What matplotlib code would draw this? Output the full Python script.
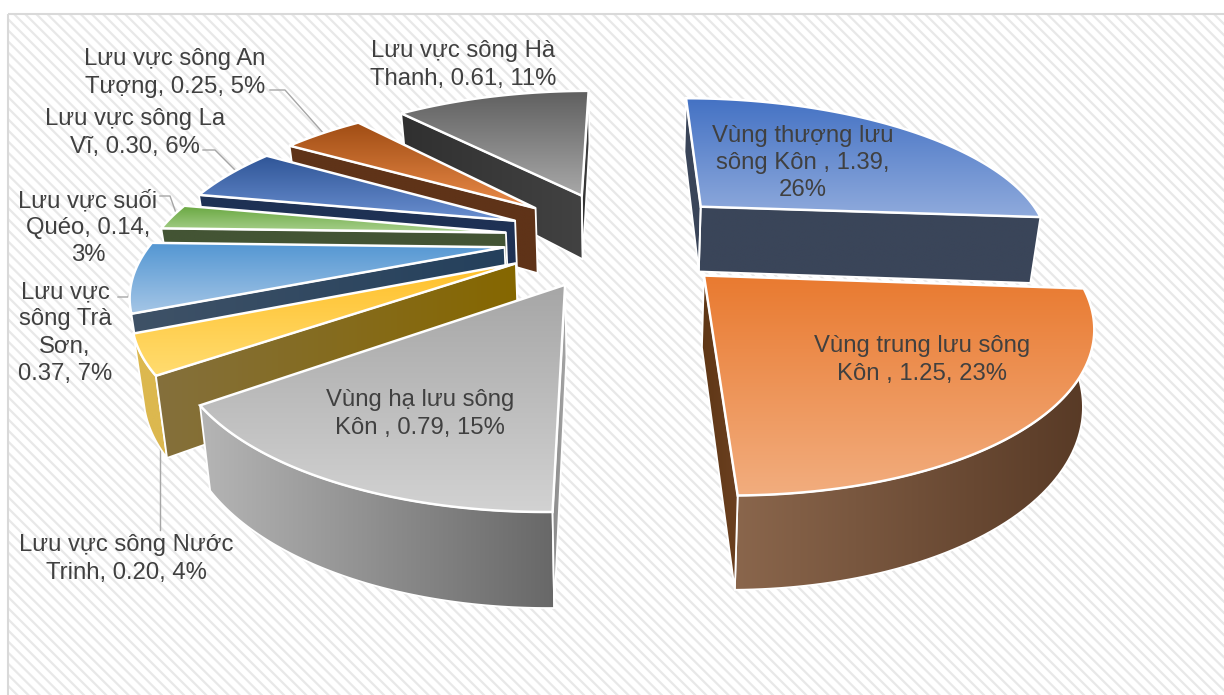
#!/usr/bin/env python3
"""Exploded 3D-style pie of river basin areas, drawn with plain matplotlib patches."""

import numpy as np
import matplotlib
matplotlib.use("Agg")
import matplotlib.pyplot as plt
from matplotlib.colors import LinearSegmentedColormap
from matplotlib.patches import Polygon, Rectangle

plt.rcParams['font.family'] = ['Liberation Sans', 'DejaVu Sans']
plt.rcParams['hatch.linewidth'] = 1.6

# data
names = ["Vùng thượng lưu sông Kôn", "Vùng trung lưu sông Kôn", "Vùng hạ lưu sông Kôn",
         "Lưu vực sông Nước Trinh", "Lưu vực sông Trà Sơn", "Lưu vực suối Quéo",
         "Lưu vực sông La Vĩ", "Lưu vực sông An Tượng", "Lưu vực sông Hà Thanh"]
values = [1.39, 1.25, 0.79, 0.20, 0.37, 0.14, 0.30, 0.25, 0.61]
labels = ["Vùng thượng lưu\nsông Kôn , 1.39,\n26%", "Vùng trung lưu sông\nKôn , 1.25, 23%",
          "Vùng hạ lưu sông\nKôn , 0.79, 15%", "Lưu vực sông Nước\nTrinh, 0.20, 4%",
          "Lưu vực\nsông Trà\nSơn,\n0.37, 7%", "Lưu vực suối\nQuéo, 0.14,\n3%",
          "Lưu vực sông La\nVĩ, 0.30, 6%", "Lưu vực sông An\nTượng, 0.25, 5%",
          "Lưu vực sông Hà\nThanh, 0.61, 11%"]

# styles: top gradient (upper, lower), side face (left, right), outer wall (left, right)
top_colors = [("#4472c4", "#8faadc"), ("#e97a30", "#f2ad7e"), ("#a6a6a6", "#d2d2d2"),
              ("#ffc02a", "#ffdc70"), ("#5497d3", "#a5c6e6"), ("#6aa842", "#a9d18e"),
              ("#2f5597", "#6a8fd0"), ("#a04d14", "#ea8a48"), ("#606060", "#a8a8a8")]
face_colors = [("#3a4559", "#3a4559"), ("#5f3716", "#6b4020"), ("#8a8a8a", "#a8a8a8"),
               ("#84703c", "#866700"), ("#3f5267", "#24405c"), ("#435434", "#435434"),
               ("#1e3154", "#1e3154"), ("#5f3318", "#5f3318"), ("#303030", "#424242")]
wall_colors = [("#2c4a7c", "#2c4a7c"), ("#8a664c", "#573925"), ("#b5b5b5", "#686868"),
               ("#dcb84f", "#dcb84f"), ("#3f5267", "#3f5267"), ("#435434", "#435434"),
               ("#1e3154", "#1e3154"), ("#5f3318", "#5f3318"), ("#555555", "#555555")]

label_pos = [(803, 163), (922, 360), (420, 414), (126, 559), (65, 333),
             (88, 228), (135, 133), (175, 73), (463, 65)]

# projection of the pie plane onto the page
CENTER = (620, 238)
RIM_X, RIM_Y = 351, 147
PERSPECTIVE = 0.235
EXPLODE = 0.33
HEIGHT = 68
BOTTOM_SHRINK = 0.976
START_ANGLE = 0


def project(x, y):
    """Plane coords (y towards the viewer) to page pixels, plus the local scale."""
    s = 1 / (1 - PERSPECTIVE * y)
    return CENTER[0] + RIM_X * x * s, CENTER[1] + RIM_Y * y * s, s


def lower_x(x):
    # the bottom of the pie sits a little further away, so it pulls in to the centre
    return CENTER[0] + (x - CENTER[0]) * BOTTOM_SHRINK


def gradient_fill(ax, pts, c0, c1, vertical, zorder):
    """Fill polygon with a linear gradient, using a clipped image."""
    cmap = LinearSegmentedColormap.from_list("g", [c0, c1])
    ramp = np.linspace(0, 1, 128)
    ramp = ramp[:, None] if vertical else ramp[None, :]
    x0, x1 = pts[:, 0].min(), pts[:, 0].max()
    y0, y1 = pts[:, 1].min(), pts[:, 1].max()
    im = ax.imshow(ramp, cmap=cmap, extent=(x0, x1, y1, y0), aspect='auto',
                   interpolation='bilinear', zorder=zorder, vmin=0, vmax=1)
    patch = Polygon(pts, closed=True, transform=ax.transData, fill=False, edgecolor='none')
    ax.add_patch(patch)
    im.set_clip_path(patch)


def outline(ax, pts, zorder, lw=1.8):
    ax.add_patch(Polygon(pts, closed=True, fill=False, edgecolor='white', lw=lw,
                         joinstyle='miter', zorder=zorder))


def draw_slice(ax, i, t0, t1, zorder):
    mid = (t0 + t1) / 2
    ox, oy = EXPLODE * np.sin(mid), -EXPLODE * np.cos(mid)
    ax0, ay0, a_s = project(ox, oy)
    apex = np.array([ax0, ay0])
    ts = np.linspace(t0, t1, 80)
    rx, ry, rs = project(ox + np.sin(ts), oy - np.cos(ts))
    rim = np.column_stack([rx, ry])
    drop = HEIGHT * rs ** 0.95
    apex_drop = HEIGHT * a_s ** 0.95
    r0, r1 = rim[0] - apex, rim[-1] - apex

    # outer wall, front half only
    front = (ts >= np.radians(94)) & (ts <= 1.5 * np.pi)
    if front.sum() > 1 and np.ptp(ts[front]) > 0.05:
        upper = rim[front]
        lower = np.column_stack([lower_x(upper[:, 0]), upper[:, 1] + drop[front]])
        pts = np.vstack([upper, lower[::-1]])
        gradient_fill(ax, pts, *wall_colors[i], False, zorder)
        outline(ax, pts, zorder + 0.1, 1.3)

    # radial faces, only the ones looking at the viewer
    for a, b, p, d in ((r0, r1, rim[0], drop[0]), (r1, r0, rim[-1], drop[-1])):
        side = a[0] * b[1] - a[1] * b[0]
        if a[0] * side > 0:
            continue
        pts = np.array([apex, p, [lower_x(p[0]), p[1] + d],
                        [lower_x(apex[0]), apex[1] + apex_drop]])
        gradient_fill(ax, pts, *face_colors[i], False, zorder + 0.2)
        outline(ax, pts, zorder + 0.3, 1.3)

    # top
    pts = np.vstack([apex, rim])
    gradient_fill(ax, pts, *top_colors[i], True, zorder + 0.4)
    outline(ax, pts, zorder + 0.5)


fig = plt.figure(figsize=(12.24, 6.95), dpi=100)
ax = fig.add_axes([0, 0, 1, 1])

ax.add_patch(Rectangle((8, 14), 1230, 700, facecolor='white', edgecolor='#e8e8e8',
                       hatch='\\\\\\', lw=0, zorder=0))
ax.add_patch(Rectangle((8, 14), 1230, 700, fill=False, edgecolor='#d9d9d9', lw=1.5, zorder=0.5))

# angles from the values, clockwise from twelve o'clock
shares = np.array(values) / sum(values)
edges = np.radians(START_ANGLE + 360 * np.concatenate([[0], np.cumsum(shares)]))

# painter order: back slices first, the big front slice last
order = [0, 1, 8, 7, 6, 5, 4, 3, 2]
for n, i in enumerate(order):
    draw_slice(ax, i, edges[i], edges[i + 1], 2 + n)

# leader lines
leaders = [([270, 285, 325], [90, 90, 135]), ([203, 215, 235], [150, 150, 170]),
           ([160, 170, 176], [196, 196, 213]), ([118, 128, 137], [297, 297, 275]),
           ([160, 160], [530, 440])]
for xs, ys in leaders:
    ax.plot(xs, ys, color='#a6a6a6', lw=1.0, zorder=1.5)

for text, (x, y) in zip(labels, label_pos):
    ax.text(x, y, text, ha='center', va='center', fontsize=17.2, color='#404040',
            linespacing=1.3, zorder=30)

ax.set_xlim(0, 1224)
ax.set_ylim(695, 0)
ax.axis('off')

fig.savefig("out.png", dpi=100, facecolor='white')
